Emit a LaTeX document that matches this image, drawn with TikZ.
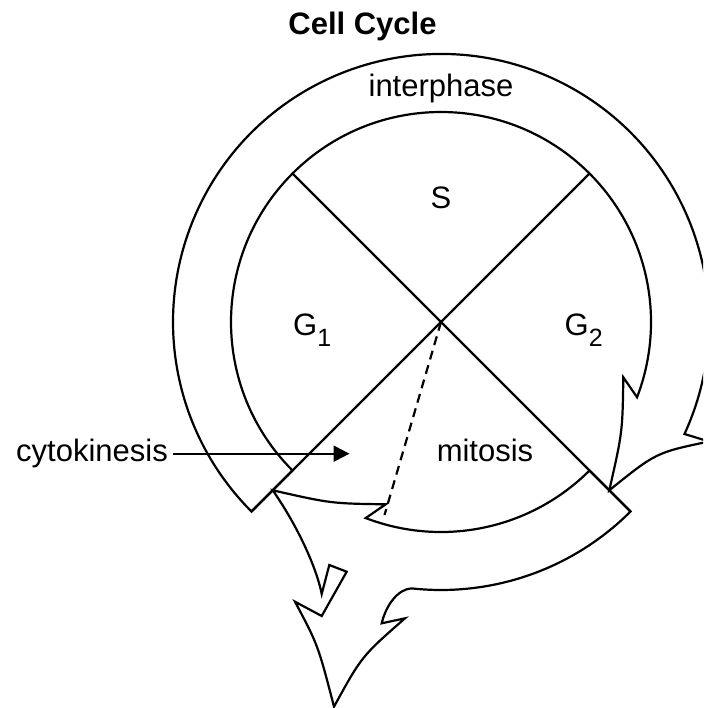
\documentclass[tikz,border=0pt]{standalone}
\usepackage{fontspec}
\setmainfont{Liberation Sans}
\usetikzlibrary{arrows.meta}
\begin{document}
\begin{tikzpicture}[x=1pt,y=-1pt,
  outline/.style={line width=2.2pt, black},
  lbl/.style={inner sep=0pt, font=\fontsize{31}{37}\selectfont},
  cytoarrow/.style={line width=2.2pt, -{Triangle[length=16pt,width=16pt]}},
  division/.style={line width=2.2pt, dash pattern=on 9pt off 6pt}]
\useasboundingbox (0,0) rectangle (703,708);
\clip (0,0) rectangle (703,708);
\begin{scope}[shift={(441,322)}]
  % interphase band with arrowhead
  \draw[outline] (135:268) -- (135:210)
    arc[start angle=135, end angle=381, radius=210]
    -- (182.3,55.3) .. controls (181.5,110) .. (45:238)
    .. controls (215,130.6) .. (268,119.5)
    -- (24.7:268)
    arc[start angle=384.7, end angle=135, radius=268] -- cycle;
  % mitosis band splitting into two arrows
  \draw[outline] (45:210) -- (45:268)
    arc[start angle=45, end angle=96.3, radius=268]
    .. controls (-43,267) and (-55,283) .. (-59.3,301.3)
    -- (-36,296.3)
    .. controls (-79.3,334.2) .. (-107,384.7)
    .. controls (-123,323) .. (-146,279.7)
    -- (-119.3,294) -- (-94.3,249.7) -- (-111.7,243) -- (-119.3,272)
    .. controls (-125,243) and (-146,200) .. (135:238)
    .. controls (-110,181.5) .. (-55.3,182.3)
    -- (111:210)
    arc[start angle=111, end angle=45, radius=210] -- cycle;
  % phase dividers
  \draw[outline] (225:210) -- (45:268);
  \draw[outline] (315:210) -- (135:268);
  % cytokinesis division line
  \draw[division] (0,0) -- (-56.5,193);
\end{scope}
% labels
\node[lbl, anchor=base, font=\fontsize{31}{37}\selectfont\bfseries] (title) at (362.5,35) {Cell Cycle};
\node[lbl, anchor=base] (inter) at (441,97) {interphase};
\node[lbl, anchor=base] (S) at (441,208.3) {S};
\node[lbl, anchor=base west] (G1) at (293,335) {G\raisebox{-11pt}{\fontsize{25}{25}\selectfont 1}};
\node[lbl, anchor=base west] (G2) at (564.5,335) {G\raisebox{-11pt}{\fontsize{25}{25}\selectfont 2}};
\node[lbl, anchor=base] (mitosis) at (485,461.7) {mitosis};
\node[lbl, anchor=base east] (cyto) at (168,461.7) {cytokinesis};
\coordinate (cytotip) at (349.5,453.5);
\draw[cytoarrow] ([xshift=5pt]cyto.east) -- (cyto.east -| cytotip);
\end{tikzpicture}
\end{document}
